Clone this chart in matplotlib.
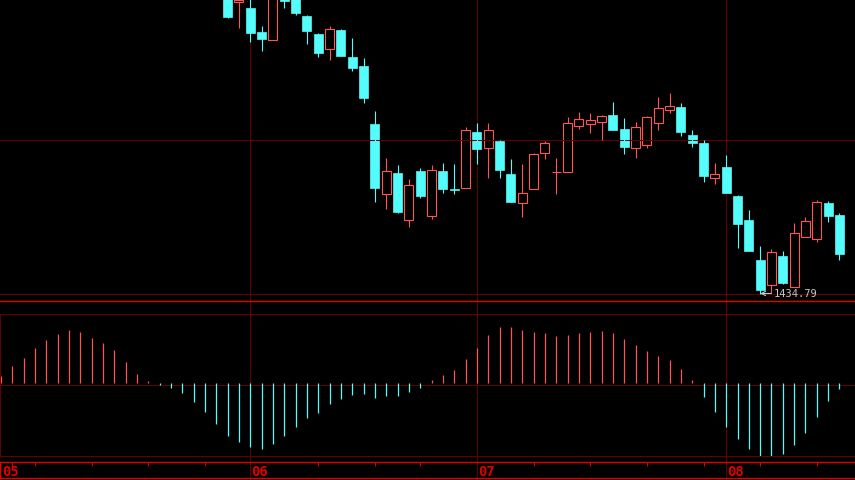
import matplotlib.pyplot as plt
from matplotlib.patches import Rectangle

# ---------------------------
# Data
# ---------------------------

month_labels = ["05", "06", "07", "08"]
month_start = [0, 22, 42, 64]
week_ticks = [1, 3, 8, 13, 18, 28, 33, 37, 47, 52, 57, 62, 67, 72]
n_days = 75

# candles from day 20 on (earlier days sit above the visible window)
first_day = 20
opens = [2043.8, 2017.2, 2005.8, 1957.8, 1942.4, 2033.8, 2027.8, 1989.8, 1953.8, 1924.4,
         1961.8, 1907.8, 1889.8, 1773.8, 1634.4, 1675.8, 1582.4, 1679.8, 1590.4, 1679.8,
         1642.8, 1645.8, 1757.8, 1725.8, 1739.8, 1673.8, 1615.8, 1643.8, 1715.8, 1677.8,
         1678.4, 1770.4, 1774.4, 1778.4, 1791.8, 1763.8, 1726.4, 1732.4, 1776.4, 1802.4,
         1807.8, 1751.8, 1735.8, 1666.4, 1687.8, 1629.8, 1581.8, 1501.8, 1452.4, 1509.8,
         1448.4, 1548.4, 1544.4, 1615.8, 1591.8]
highs = [2053.8, 2033.8, 2029.8, 1969.8, 2047.8, 2043.8, 2035.8, 1992.4, 1956.4, 1969.8,
         1963.8, 1945.8, 1905.8, 1799.8, 1705.8, 1691.8, 1663.8, 1685.8, 1691.8, 1695.8,
         1693.8, 1767.8, 1775.8, 1775.8, 1741.8, 1703.8, 1693.8, 1715.8, 1739.8, 1705.8,
         1787.8, 1797.8, 1795.8, 1790.8, 1817.8, 1785.8, 1777.8, 1789.8, 1827.8, 1835.8,
         1815.8, 1761.8, 1741.8, 1695.8, 1711.8, 1631.8, 1601.8, 1529.8, 1523.8, 1519.8,
         1575.8, 1587.8, 1622.4, 1620.4, 1596.4]
lows = [1985.2, 1965.8, 1938.4, 1920.4, 1941.4, 2006.4, 1992.4, 1933.8, 1908.4, 1901.8,
        1908.8, 1880.4, 1816.4, 1618.4, 1603.8, 1595.8, 1567.2, 1625.8, 1583.8, 1635.8,
        1633.8, 1644.8, 1693.8, 1665.8, 1665.8, 1616.8, 1587.8, 1642.8, 1703.8, 1633.8,
        1677.8, 1764.4, 1755.8, 1741.8, 1760.8, 1713.8, 1705.8, 1726.4, 1762.4, 1795.8,
        1749.8, 1727.8, 1657.8, 1653.8, 1635.8, 1525.8, 1518.8, 1434.79, 1435.8, 1454.4,
        1447.8, 1547.8, 1538.4, 1578.4, 1502.4]
closes = [1988.4, 2021.8, 1956.4, 1944.4, 2039.8, 2020.4, 1996.4, 1959.8, 1916.4, 1963.8,
          1910.4, 1885.8, 1826.4, 1645.8, 1679.8, 1597.8, 1651.2, 1630.4, 1681.8, 1643.8,
          1641.8, 1761.8, 1723.8, 1761.8, 1681.8, 1617.8, 1635.8, 1713.8, 1735.8, 1678.4,
          1775.8, 1783.8, 1781.8, 1789.8, 1761.8, 1727.8, 1767.8, 1787.8, 1805.8, 1809.8,
          1757.8, 1735.8, 1669.8, 1673.8, 1636.4, 1573.8, 1519.8, 1441.8, 1517.8, 1456.4,
          1555.8, 1579.8, 1617.8, 1590.4, 1513.8]

macd_hist = [3.1, 8.4, 12.3, 17.3, 21.3, 24.3, 26.3, 25.3, 22.3, 19.8, 16.4, 10.3, 4.3, 0.8,
             -1.3, -2.8, -5.3, -9.8, -14.8, -20.8, -26.6, -29.8, -32.3, -33.3, -30.8, -26.6, -22.1,
             -17.6, -15.1, -10.6, -8.1, -6.1, -5.6, -7.6, -6.6, -6.6, -4.6, -2.6,
             1.4, 3.8, 6.4, 11.8, 17.3, 23.8, 27.8, 27.8, 26.3, 25.3, 24.8, 23.3, 23.8, 24.8, 25.3,
             25.8, 24.8, 21.8, 18.8, 15.8, 13.3, 11.3, 6.8, 1.3,
             -7.1, -14.6, -22.1, -28.1, -33.1, -36.6, -36.6, -35.6, -31.1, -25.1, -17.1, -9.1, -3.1]

low_label = "1434.79"
low_day = 67

# ---------------------------
# Style
# ---------------------------

UP = "#ff5454"
DOWN = "#54fcfc"
DARK = "#600000"
BRIGHT = "#e00000"
W = 0.79
xlim = (-0.09, n_days + 0.37)

fig = plt.figure(figsize=(8.55, 4.81), dpi=100, facecolor="black")
H = 481.0

def panel(top_px, bottom_px):
    ax = fig.add_axes([0, (H - bottom_px) / H, 1, (bottom_px - top_px) / H], zorder=1)
    ax.set_facecolor("none")
    ax.set_xlim(*xlim)
    ax.set_xticks([])
    ax.set_yticks([])
    for s in ax.spines.values():
        s.set_visible(False)
    return ax

# background axes: month lines through the whole figure
bg = fig.add_axes([0, 0, 1, 1], zorder=0)
bg.set_facecolor("black")
bg.set_xlim(*xlim)
bg.set_ylim(0, 1)
bg.axis("off")
bg.vlines(month_start[1:], 0, 1, color=DARK, lw=0.75)

# ---------------------------
# Candles
# ---------------------------

ax = panel(0, 302)
ax.set_ylim(1419.79, 2023.79)
ax.axhline(1741.79, color=DARK, lw=0.75)
ax.axhline(1433.79, color=DARK, lw=0.75)
ax.spines["bottom"].set_visible(True)
ax.spines["bottom"].set_color(BRIGHT)
ax.spines["bottom"].set_linewidth(1.0)

for k in range(len(opens)):
    x = first_day + k
    o, h, l, c = opens[k], highs[k], lows[k], closes[k]
    if c >= o:
        ax.vlines(x, l, o, color=UP, lw=0.8)
        ax.vlines(x, c, h, color=UP, lw=0.8)
        ax.add_patch(Rectangle((x - W / 2, o), W, c - o, fill=False,
                               edgecolor=UP, lw=0.8))
    else:
        ax.vlines(x, l, h, color=DOWN, lw=0.8)
        ax.add_patch(Rectangle((x - W / 2, c), W, o - c, facecolor=DOWN,
                               edgecolor=DOWN, lw=0.5))

ax.annotate(low_label, xy=(low_day, lows[low_day - first_day]), xytext=(10, 0),
            textcoords="offset points", va="center", ha="left", color="#c8c8c8",
            fontsize=7.5, family="DejaVu Sans Mono",
            arrowprops=dict(arrowstyle="->", color="#c8c8c8", lw=0.8,
                            shrinkA=0, shrinkB=0))

# ---------------------------
# MACD histogram
# ---------------------------

ax2 = panel(315, 457)
ax2.set_ylim(-36.75, 34.25)
ax2.axhline(-1.25, color=DARK, lw=0.75)
for side in ["top", "bottom", "left"]:
    ax2.spines[side].set_visible(True)
    ax2.spines[side].set_color(DARK)
    ax2.spines[side].set_linewidth(0.75)

days = range(n_days)
pos = [v if v > 0 else 0 for v in macd_hist]
neg = [v if v < 0 else 0 for v in macd_hist]
ax2.vlines(days, 0, pos, color=UP, lw=0.9)
ax2.vlines(days, 0, neg, color=DOWN, lw=0.9)

# ---------------------------
# Date strip
# ---------------------------

ax3 = panel(463, 479)
ax3.set_ylim(0, 1)
for side in ["top", "bottom", "left"]:
    ax3.spines[side].set_visible(True)
    ax3.spines[side].set_color(BRIGHT)
    ax3.spines[side].set_linewidth(1.0)
ax3.vlines(week_ticks, 0.72, 1, color=BRIGHT, lw=0.75)
for d, lab in zip(month_start, month_labels):
    ax3.text(d + 0.08, 0.42, lab, color="#e00000", fontsize=10, fontweight="bold",
             family="DejaVu Sans Mono", ha="left", va="center")

fig.savefig("out.png", dpi=100, facecolor="black")
